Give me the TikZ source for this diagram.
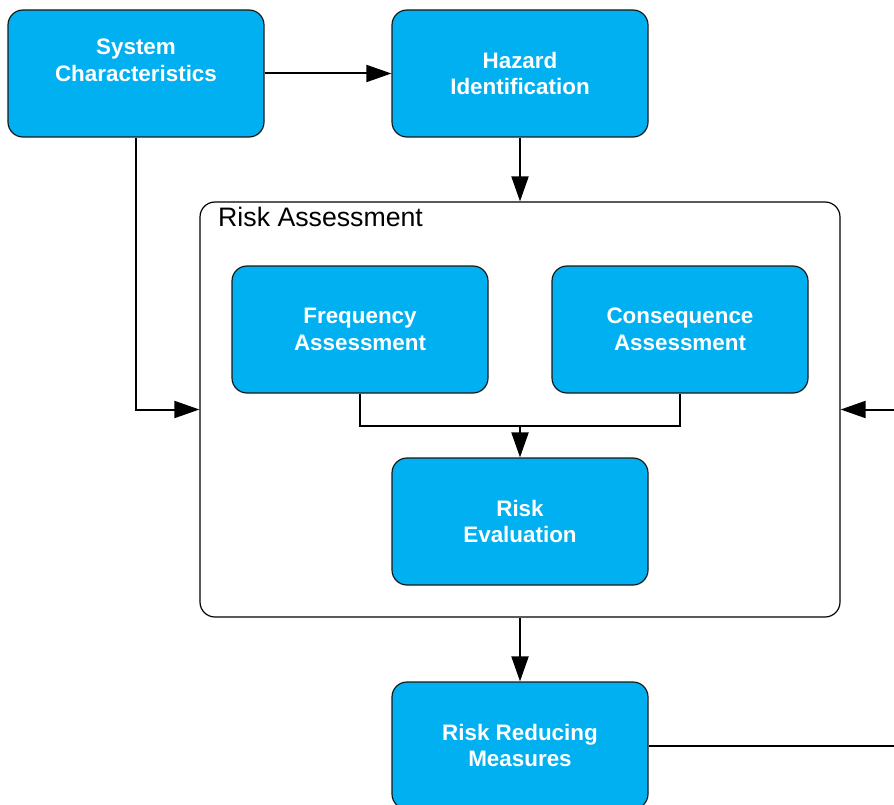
\documentclass[tikz,border=0pt]{standalone}
\usepackage{fontspec}
\setmainfont{Liberation Sans}
\usetikzlibrary{arrows.meta}
\definecolor{boxblue}{RGB}{0,176,240}

\begin{document}
\begin{tikzpicture}[x=1pt, y=-1pt, every node/.style={inner sep=0pt},
  box/.style={draw=black!90, line width=1.2pt, fill=boxblue, rounded corners=15pt,
    minimum width=256pt, minimum height=127pt, align=center, text=white,
    font=\fontsize{22.4}{26.5}\selectfont\bfseries},
  group/.style={draw=black, line width=1.2pt, rounded corners=15pt,
    minimum width=640pt, minimum height=415pt},
  arr/.style={line width=2pt, -{Triangle[length=25pt,width=17pt]}}]
% page frame
\useasboundingbox (0,0) rectangle (894,805);
% top row
\node[box] (sysChar) at (136,73.5) {System\\Characteristics\\~};
\node[box] (hazard) at (520,73.5) {Hazard\\Identification};
% risk assessment group
\node[group] (riskAssess) at (520,409.5) {};
\node[anchor=base west, font=\fontsize{26.7}{30}\selectfont] (raLabel) at (218,226) {Risk Assessment};
\node[box] (freq) at (360,329.5) {Frequency\\Assessment};
\node[box] (cons) at (680,329.5) {Consequence\\Assessment};
\node[box] (riskEval) at (520,521.5) {Risk\\Evaluation};
% bottom
\node[box] (rrm) at (520,745.5) {Risk Reducing\\Measures};
% free ends at the right edge
\coordinate (merge) at (520,426);
\coordinate (backIn) at (894,409.5);
\coordinate (backOut) at (894,745.5);
% connectors
\draw[arr] (sysChar) -- (hazard);
\draw[arr] (hazard) -- (riskAssess);
\draw[arr] (sysChar.south) |- (riskAssess.west);
\draw[line width=2pt] (freq.south) |- (merge) -| (cons.south);
\draw[arr] (merge) -- (riskEval);
\draw[arr] (riskAssess) -- (rrm);
\draw[line width=2pt] (rrm.east) -- (backOut);
\draw[arr] (backIn) -- (riskAssess.east);
\end{tikzpicture}
\end{document}
